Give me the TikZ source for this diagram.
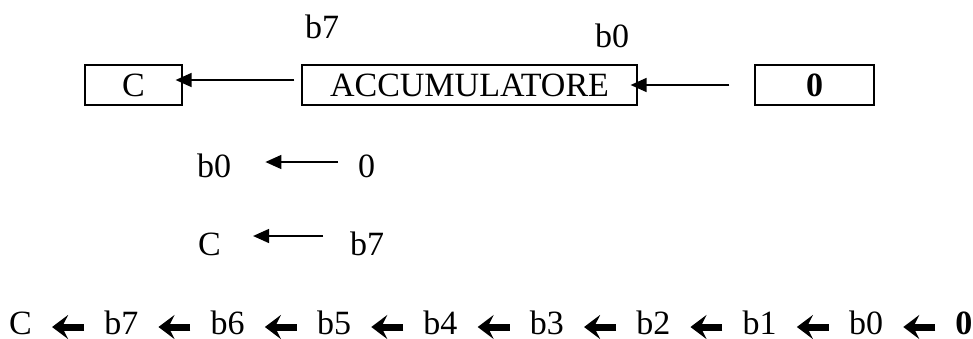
\documentclass[tikz,border=0pt]{standalone}
\usepackage{fontspec}
\setmainfont{Liberation Serif}
\usetikzlibrary{positioning,arrows.meta}
\tikzset{
  every node/.style={font=\fontsize{34}{40}\selectfont, inner sep=0pt},
  reg/.style={draw, line width=1.2pt, minimum height=40pt},
  lbl/.style={anchor=base west},
  bitarr/.style={-{Triangle[length=16pt,width=14pt]}, line width=1.6pt},
  bigarr/.style={-{Stealth[length=16pt,width=24pt,inset=6pt]}, line width=7pt,
    shorten <=20pt, shorten >=20pt},
}
\begin{document}
\begin{tikzpicture}[x=1pt,y=-1pt]
\path[use as bounding box] (0,0) rectangle (973,338);

% registers
\node[reg, minimum width=97pt] (carry) at (133.5,85) {C};
\node[reg, minimum width=335pt] (acc) at (469.5,85) {ACCUMULATORE};
\node[reg, minimum width=119pt] (zero) at (814.5,85) {\textbf{0}};
\node[lbl] (msb) at (305,38) {b7};
\node[lbl] (lsb) at (595,47) {b0};

\draw[bitarr, shorten <=7pt, shorten >=-7pt] ([yshift=5pt]acc.west) -- ([yshift=5pt]carry.east);
\draw[bitarr, shorten <=25pt, shorten >=-7pt] (zero.west) -- (acc.east);

% rules
\node[lbl] (b0r) at (197,177) {b0};
\node[lbl] (in0) at (358,177) {0};
\node[lbl] (cr) at (198,255) {C};
\node[lbl] (b7r) at (350,255) {b7};
\draw[bitarr, shorten <=20pt, shorten >=34pt] ([yshift=15pt]in0.base west) -- ([yshift=15pt]b0r.base east);
\draw[bitarr, shorten <=27pt, shorten >=32pt] ([yshift=19pt]b7r.base west) -- ([yshift=19pt]cr.base east);

% shift chain
\node[lbl] (s0) at (9,334) {C};
\foreach \bit [count=\i, remember=\i as \j (initially 0)] in {b7,b6,b5,b4,b3,b2,b1,b0,\textbf{0}}
{
  \node[base right=72pt of s\j] (s\i) {\bit};
  \draw[bigarr] ([yshift=7pt]s\i.base west) -- ([yshift=7pt]s\j.base east);
}
\end{tikzpicture}
\end{document}
